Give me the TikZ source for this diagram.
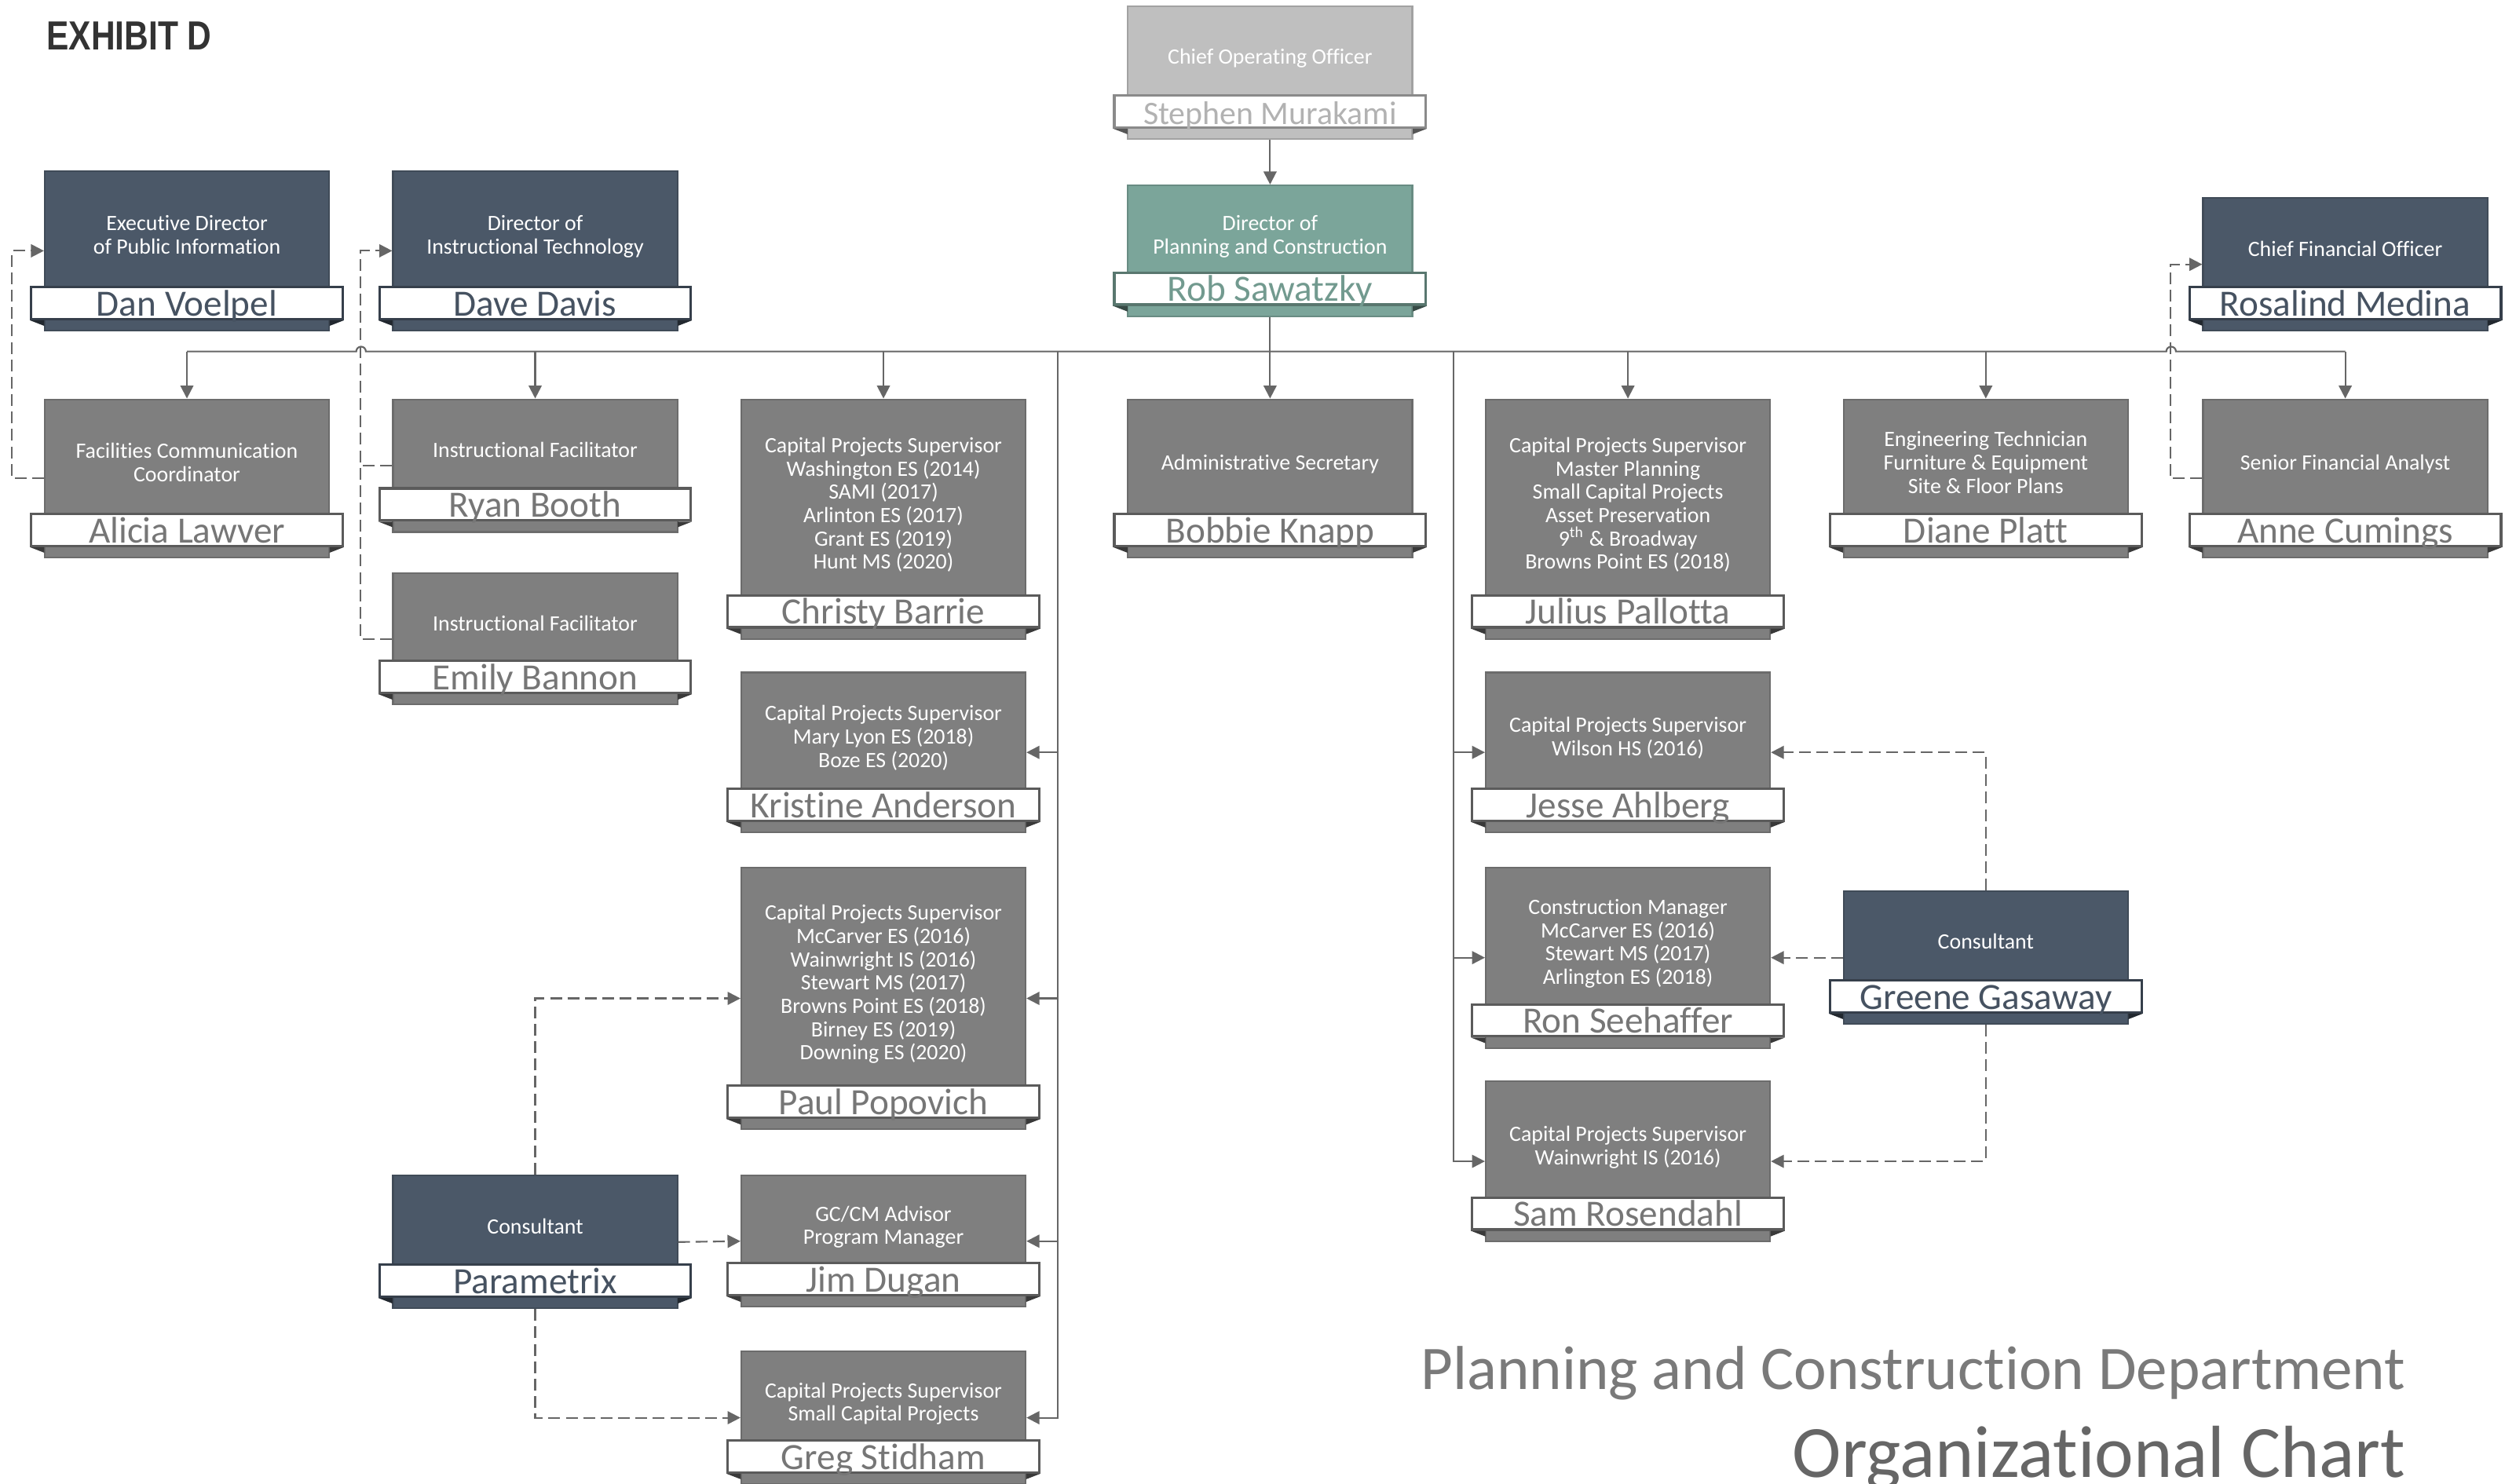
\documentclass[tikz,border=0pt]{standalone}
\usepackage{fontspec}
\setmainfont{Carlito}[Ligatures=NoCommon]
\newfontfamily\exhibitfont{Liberation Sans}[FakeStretch=0.82]
\usetikzlibrary{arrows.meta,positioning}
\definecolor{slate}{HTML}{4B5868}
\definecolor{greybox}{HTML}{7F7F7F}
\definecolor{tealbox}{HTML}{7BA59A}
\definecolor{coogrey}{HTML}{BFBFBF}
\definecolor{linegrey}{HTML}{666666}
\definecolor{exhibitgrey}{HTML}{333333}
\definecolor{titlegrey}{HTML}{7A7A7A}
\definecolor{chartgrey}{HTML}{666666}

\begin{document}
\begin{tikzpicture}[x=0.02cm,y=-0.02cm,box/.style={rectangle,draw=#1!85!black,fill=#1,line width=0.6pt,minimum width=3.56cm,inner sep=0pt,text=white,align=center,font=\fontsize{7.8}{8.3}\selectfont,text depth=0.4cm},namebar/.style={rectangle,draw=#1!72!black,fill=white,line width=0.9pt,minimum width=3.9cm,minimum height=0.4cm,inner sep=0pt,text=#1!93!black,font=\fontsize{13.2}{14}\selectfont,text height=0.34cm,text depth=0.02cm},link/.style={draw=linegrey,line width=0.6pt},arrow/.style={link,-{Triangle[length=4.6pt,width=4.6pt]}},dashlink/.style={arrow,dash pattern=on 4.2pt off 2pt}]
\path[use as bounding box,fill=white] (0,0) rectangle (1568,929);
\node[anchor=base west,text=exhibitgrey,font=\exhibitfont\bfseries\fontsize{14.5}{15}\selectfont] (exhibit) at (23,31) {EXHIBIT D};
\node[box=coogrey,minimum height=1.66cm] (coo) at (795,45.5) {Chief Operating Officer};
\node[namebar=coogrey,above=1.4mm of coo.south,font=\fontsize{11.7}{12}\selectfont] (cooname) {Stephen Murakami};
\node[box=tealbox,minimum height=1.64cm] (dir) at (795,157) {Director of\\Planning and Construction};
\node[namebar=tealbox,above=1.4mm of dir.south] (dirname) {Rob Sawatzky};
\draw[arrow] (coo) -- (dir);
\node[box=slate,minimum height=2cm] (pubinfo) at (117,157) {Executive Director\\of Public Information};
\node[namebar=slate,above=1.4mm of pubinfo.south] (pubinfoname) {Dan Voelpel};
\node[box=slate,minimum height=2cm] (insttech) at (335,157) {Director of\\Instructional Technology};
\node[namebar=slate,above=1.4mm of insttech.south] (insttechname) {Dave Davis};
\node[box=slate,minimum height=1.66cm] (cfo) at (1468,165.5) {Chief Financial Officer};
\node[namebar=slate,above=1.4mm of cfo.south] (cfoname) {Rosalind Medina};
\node[box=greybox,minimum height=1.98cm] (alicia) at (117,299.5) {Facilities Communication\\Coordinator};
\node[namebar=greybox,above=1.4mm of alicia.south] (alicianame) {Alicia Lawver};
\node[box=greybox,minimum height=1.66cm] (ryan) at (335,291.5) {Instructional Facilitator};
\node[namebar=greybox,above=1.4mm of ryan.south] (ryanname) {Ryan Booth};
\node[box=greybox,minimum height=1.64cm] (emily) at (335,400) {Instructional Facilitator};
\node[namebar=greybox,above=1.4mm of emily.south] (emilyname) {Emily Bannon};
\node[box=greybox,minimum height=3cm] (christy) at (553,325) {Capital Projects Supervisor\\Washington ES (2014)\\SAMI (2017)\\Arlinton ES (2017)\\Grant ES (2019)\\Hunt MS (2020)};
\node[namebar=greybox,above=1.4mm of christy.south] (christyname) {Christy Barrie};
\node[box=greybox,minimum height=1.98cm] (bobbie) at (795,299.5) {Administrative Secretary};
\node[namebar=greybox,above=1.4mm of bobbie.south] (bobbiename) {Bobbie Knapp};
\node[box=greybox,minimum height=3cm] (julius) at (1019,325) {Capital Projects Supervisor\\Master Planning\\Small Capital Projects\\Asset Preservation\\9\textsuperscript{th} \& Broadway\\Browns Point ES (2018)};
\node[namebar=greybox,above=1.4mm of julius.south] (juliusname) {Julius Pallotta};
\node[box=greybox,minimum height=1.98cm] (diane) at (1243,299.5) {Engineering Technician\\Furniture \& Equipment\\Site \& Floor Plans};
\node[namebar=greybox,above=1.4mm of diane.south] (dianename) {Diane Platt};
\node[box=greybox,minimum height=1.98cm] (anne) at (1468,299.5) {Senior Financial Analyst};
\node[namebar=greybox,above=1.4mm of anne.south] (annename) {Anne Cumings};
\node[box=greybox,minimum height=2cm] (kristine) at (553,471) {Capital Projects Supervisor\\Mary Lyon ES (2018)\\Boze ES (2020)};
\node[namebar=greybox,above=1.4mm of kristine.south] (kristinename) {Kristine Anderson};
\node[box=greybox,minimum height=3.28cm] (paul) at (553,625) {Capital Projects Supervisor\\McCarver ES (2016)\\Wainwright IS (2016)\\Stewart MS (2017)\\Browns Point ES (2018)\\Birney ES (2019)\\Downing ES (2020)};
\node[namebar=greybox,above=1.4mm of paul.south] (paulname) {Paul Popovich};
\node[box=greybox,minimum height=1.64cm] (jim) at (553,777) {GC/CM Advisor\\Program Manager};
\node[namebar=greybox,above=1.4mm of jim.south] (jimname) {Jim Dugan};
\node[box=greybox,minimum height=1.66cm] (greg) at (553,887.5) {Capital Projects Supervisor\\Small Capital Projects};
\node[namebar=greybox,above=1.4mm of greg.south] (gregname) {Greg Stidham};
\node[box=greybox,minimum height=2cm] (jesse) at (1019,471) {Capital Projects Supervisor\\Wilson HS (2016)};
\node[namebar=greybox,above=1.4mm of jesse.south] (jessename) {Jesse Ahlberg};
\node[box=greybox,minimum height=2.26cm] (ron) at (1019,599.5) {Construction Manager\\McCarver ES (2016)\\Stewart MS (2017)\\Arlington ES (2018)};
\node[namebar=greybox,above=1.4mm of ron.south] (ronname) {Ron Seehaffer};
\node[box=greybox,minimum height=2cm] (sam) at (1019,727) {Capital Projects Supervisor\\Wainwright IS (2016)};
\node[namebar=greybox,above=1.4mm of sam.south] (samname) {Sam Rosendahl};
\node[box=slate,minimum height=1.66cm] (greene) at (1243,599.5) {Consultant};
\node[namebar=slate,above=1.4mm of greene.south] (greenename) {Greene Gasaway};
\node[box=slate,minimum height=1.66cm] (parametrix) at (335,777.5) {Consultant};
\node[namebar=slate,above=1.4mm of parametrix.south] (parametrixname) {Parametrix};
\foreach \n/\c in {cooname/coogrey,dirname/tealbox,pubinfoname/slate,insttechname/slate,cfoname/slate,alicianame/greybox,ryanname/greybox,emilyname/greybox,christyname/greybox,bobbiename/greybox,juliusname/greybox,dianename/greybox,annename/greybox,kristinename/greybox,paulname/greybox,jimname/greybox,gregname/greybox,jessename/greybox,ronname/greybox,samname/greybox,greenename/slate,parametrixname/slate}{\fill[\c!45!black] (\n.south west) -- ++(9,0) -- ++(0,3.5) -- cycle (\n.south east) -- ++(-9,0) -- ++(0,3.5) -- cycle;}
\coordinate (bus) at (795,220);
\coordinate (ltrunk) at (662,220);
\coordinate (rtrunk) at (910,220);
\draw[link] (dir) -- (bus);
\draw[link] (bus -| alicia.north) -- (223,220) arc[start angle=180,end angle=0,radius=0.06cm] -- (1356,220) arc[start angle=180,end angle=0,radius=0.06cm] -- (bus -| anne.north);
\foreach \n in {alicia,ryan,christy,bobbie,julius,diane,anne} \draw[arrow] (bus -| \n.north) -- (\n.north);
\foreach \n in {kristine,paul,jim,greg} \draw[arrow] (ltrunk) |- (\n.east);
\foreach \n in {jesse,ron,sam} \draw[arrow] (rtrunk) |- (\n.west);
\draw[dashlink] (alicia.west) -- ++(-20,0) |- (pubinfo.west);
\draw[dashlink,-] (ryan.west) -- ++(-20,0);
\draw[dashlink] (emily.west) -- ++(-20,0) |- (insttech.west);
\draw[dashlink] (anne.west) -- ++(-20,0) |- (cfo.west);
\draw[dashlink] (greene.north) |- (jesse.east);
\draw[dashlink] (greene.west) -- (ron.east);
\draw[dashlink] (greene.south) |- (sam.east);
\draw[dashlink] (parametrix.north) |- (paul.west);
\draw[dashlink] (parametrix.east) -- (jim.west);
\draw[dashlink] (parametrix.south) |- (greg.west);
\node[anchor=base east,text=titlegrey,font=\fontsize{22.1}{24}\selectfont] (dept) at (1512,870) {Planning and Construction Department};
\node[anchor=base east,text=chartgrey,font=\fontsize{26.3}{28}\selectfont] (chart) at (1512,925) {Organizational Chart};
\end{tikzpicture}
\end{document}
